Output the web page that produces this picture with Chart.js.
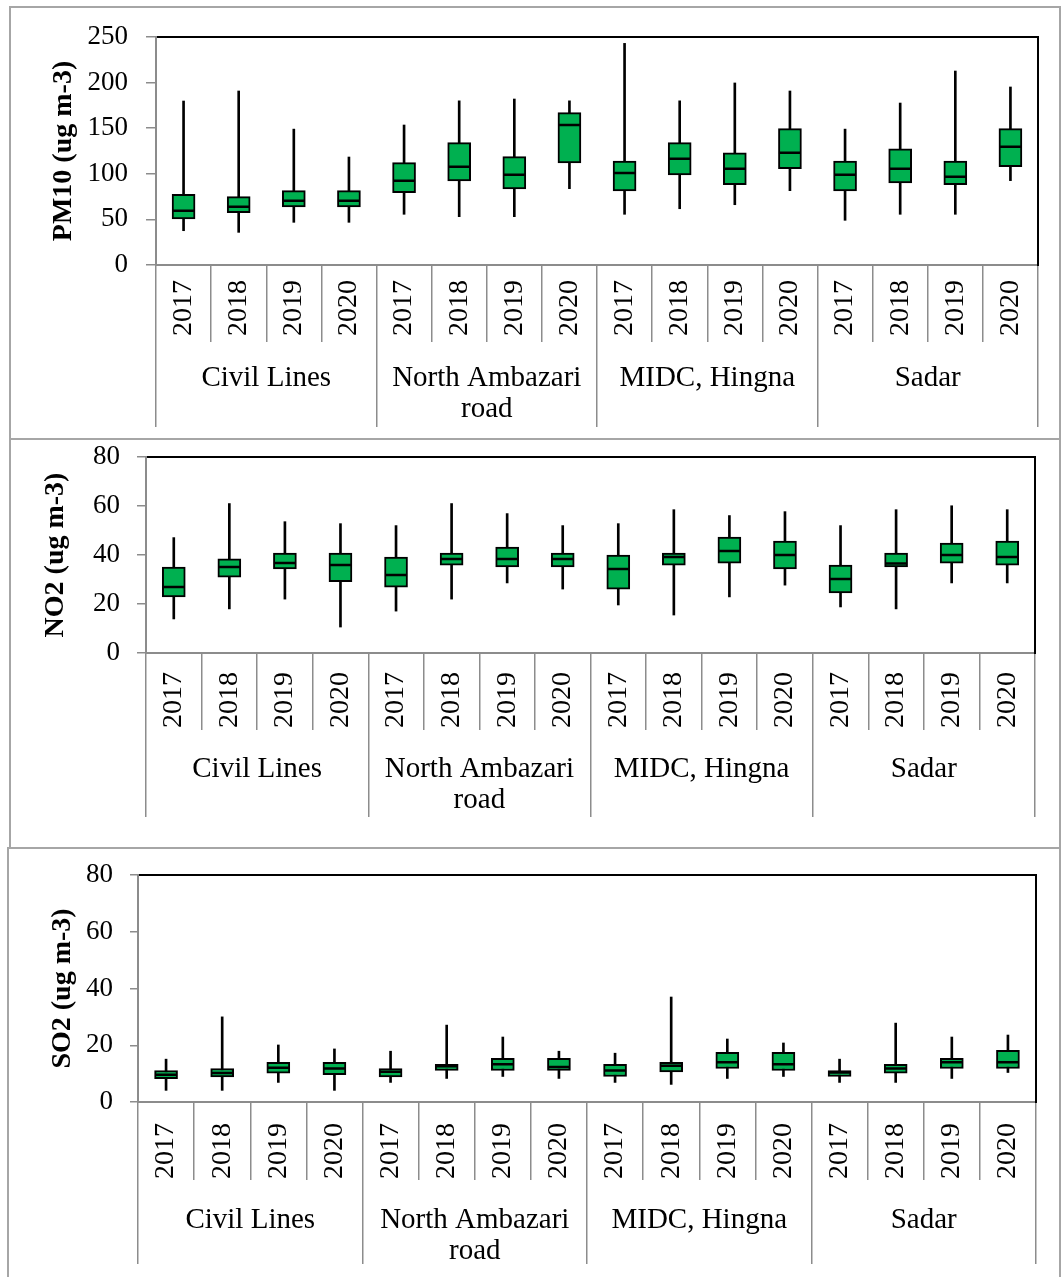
<!DOCTYPE html>
<html>
<head>
<meta charset="utf-8">
<script src="https://cdn.jsdelivr.net/npm/chart.js@4.4.1/dist/chart.umd.min.js"></script>
<style>
  html, body { margin: 0; padding: 0; background: #fff; }
  body { width: 1061px; height: 1277px; position: relative; overflow: hidden; }
  .panel { position: absolute; border: 2px solid #a6a6a6; box-sizing: border-box; }
  canvas { position: absolute; left: 0; }
</style>
</head>
<body>
<div class="panel" style="left:9px;top:6px;width:1052px;height:434px;"></div>
<div class="panel" style="left:9px;top:438px;width:1052px;height:411px;"></div>
<div class="panel" style="left:7px;top:847px;width:1054px;height:440px;"></div>
<canvas id="c1" width="1061" height="440" style="top:0px"></canvas>
<canvas id="c2" width="1061" height="430" style="top:420px"></canvas>
<canvas id="c3" width="1061" height="439" style="top:838px"></canvas>
<script>
// ---- Categories ----
const stations = ['Civil Lines', ['North Ambazari', 'road'], 'MIDC, Hingna', 'Sadar'];
const yearLabels = ['2017', '2018', '2019', '2020'];
const categories = ['2017','2018','2019','2020','2017','2018','2019','2020','2017','2018','2019','2020','2017','2018','2019','2020'];

// ---- PM10 (ug m-3) ----
const pm10Min = [37.6, 35.8, 46.8, 46.8, 55.6, 53.0, 53.0, 83.7, 55.6, 61.7, 66.1, 81.5, 49.0, 55.6, 55.6, 92.5];
const pm10Q1  = [50.4, 57.4, 63.6, 63.6, 79.3, 92.1, 83.3, 111.8, 81.1, 98.7, 88.0, 105.6, 81.1, 89.9, 88.0, 107.8];
const pm10Med = [59.6, 64.0, 70.5, 70.5, 92.5, 107.8, 99.0, 153.5, 100.9, 116.6, 105.6, 123.1, 99.0, 105.6, 96.8, 129.7];
const pm10Q3  = [77.5, 74.9, 81.5, 81.5, 112.2, 134.1, 118.8, 167.0, 114.0, 134.1, 123.1, 149.5, 114.0, 127.5, 114.0, 149.5];
const pm10Max = [179.8, 190.8, 149.0, 118.4, 153.5, 180.0, 182.0, 180.0, 243.0, 180.0, 199.6, 190.8, 149.0, 177.6, 212.7, 195.2];

// ---- NO2 (ug m-3) ----
const no2Min = [13.9, 18.0, 22.0, 10.6, 17.1, 22.0, 28.6, 26.1, 19.6, 15.5, 22.9, 27.7, 18.8, 18.0, 28.6, 28.6];
const no2Q1  = [22.9, 31.0, 34.3, 29.1, 26.9, 35.9, 35.1, 35.1, 26.1, 35.9, 36.7, 34.3, 24.5, 35.1, 36.7, 35.9];
const no2Med = [26.9, 35.1, 36.7, 35.9, 31.8, 38.4, 38.4, 38.4, 34.3, 39.2, 41.6, 40.0, 30.2, 36.5, 40.0, 39.2];
const no2Q3  = [35.1, 38.4, 40.8, 40.8, 39.2, 40.8, 43.2, 40.8, 40.0, 40.8, 47.3, 45.7, 35.9, 40.8, 44.9, 45.7];
const no2Max = [47.1, 61.0, 53.6, 52.8, 52.0, 61.0, 56.9, 52.0, 52.8, 58.5, 56.1, 57.7, 52.0, 58.5, 60.1, 58.5];

// ---- SO2 (ug m-3) ----
const so2Min = [4.1, 4.1, 6.9, 4.1, 6.9, 8.3, 9.0, 8.3, 6.9, 6.2, 8.3, 9.0, 6.9, 6.9, 8.3, 10.4];
const so2Q1  = [8.2, 8.8, 10.2, 9.6, 8.8, 11.1, 11.1, 11.1, 9.0, 10.6, 11.8, 11.1, 9.0, 10.2, 11.8, 11.8];
const so2Med = [9.6, 10.2, 12.1, 11.8, 10.7, 12.6, 13.3, 12.3, 11.1, 12.8, 14.0, 13.3, 10.4, 11.8, 14.0, 14.0];
const so2Q3  = [11.1, 11.8, 14.0, 14.0, 11.8, 13.3, 15.4, 15.4, 13.3, 14.0, 17.5, 17.5, 11.1, 13.3, 15.4, 18.2];
const so2Max = [15.1, 30.0, 20.1, 18.7, 17.9, 27.1, 22.9, 17.9, 17.2, 37.0, 22.2, 20.8, 15.1, 27.8, 22.9, 23.6];

// ---- Axis settings ----
const pm10Ticks = { max: 250, step: 50 };
const no2Ticks = { max: 80, step: 20 };
const so2Ticks = { max: 80, step: 20 };

const GRAY = '#8c8c8c';
const FONT = 'Liberation Serif, Times New Roman, serif';
const W = 1061;

function makeChart(id, d, p) {
  const H = p.H;
  const gb = p.B + p.yl + p.gl;
  new Chart(document.getElementById(id), {
    type: 'bar',
    data: {
      labels: categories,
      datasets: [
        { type: 'bar', data: d.min.map((v, i) => [v, d.max[i]]), backgroundColor: '#000', borderWidth: 0,
          barThickness: 2, grouped: false, order: 3 },
        { type: 'bar', data: d.q1.map((v, i) => [v, d.q3[i]]), backgroundColor: '#00B050', borderColor: '#000',
          borderWidth: 2, borderSkipped: false, barThickness: 23, grouped: false, order: 2 },
        { type: 'line', data: d.med, showLine: false, pointStyle: 'line', pointRadius: 11, pointHoverRadius: 11,
          borderColor: '#000', pointBorderColor: '#000', pointBackgroundColor: '#000', pointBorderWidth: 2.5,
          order: 1 }
      ]
    },
    options: {
      responsive: false, animation: false, events: [],
      layout: { padding: { left: 0, top: p.T, right: W - p.R, bottom: H - gb } },
      plugins: { legend: { display: false }, tooltip: { enabled: false } },
      scales: {
        x: {
          type: 'category', position: 'bottom', offset: true, weight: 0,
          grid: { offset: true, drawOnChartArea: false, drawTicks: true, tickLength: p.yl, color: GRAY, lineWidth: 1.5 },
          border: { display: true, color: GRAY, width: 2 },
          ticks: { autoSkip: false, minRotation: 90, maxRotation: 90, padding: p.yp, color: '#000',
                   font: { family: FONT, size: 28 } },
          afterFit: s => { s.height = p.yl; }
        },
        x2: {
          type: 'category', labels: stations, position: 'bottom', offset: true, weight: 1,
          grid: { offset: true, drawOnChartArea: false, drawTicks: true, tickLength: p.gl, color: GRAY, lineWidth: 1.5 },
          border: { display: false },
          ticks: { autoSkip: false, minRotation: 0, maxRotation: 0, padding: p.gp, color: '#000',
                   font: { family: FONT, size: 29, lineHeight: 1.1 } },
          afterFit: s => { s.height = p.gl; }
        },
        xTop: {
          type: 'category', position: 'top', display: true,
          grid: { display: false, drawTicks: false }, ticks: { display: false },
          border: { display: true, color: '#000', width: 2 },
          afterFit: s => { s.height = 0; }
        },
        y: {
          type: 'linear', position: 'left', min: 0, max: p.ymax,
          ticks: { stepSize: p.step, padding: p.tp, color: '#000', font: { family: FONT, size: 27 } },
          grid: { drawOnChartArea: false, drawTicks: true, tickLength: p.tl, color: GRAY, lineWidth: 1.5 },
          border: { display: true, color: GRAY, width: 2 },
          title: { display: true, text: p.title, color: '#000',
                   font: { family: FONT, size: 28, weight: 'bold', lineHeight: 1 },
                   padding: { top: p.titlePad, bottom: 0 } },
          afterFit: s => { s.width = p.L; }
        },
        yRight: {
          type: 'linear', position: 'right', display: true,
          grid: { display: false, drawTicks: false }, ticks: { display: false },
          border: { display: true, color: '#000', width: 2 },
          afterFit: s => { s.width = 0; }
        }
      }
    }
  });
}

makeChart('c1',
  { min: pm10Min, q1: pm10Q1, med: pm10Med, q3: pm10Q3, max: pm10Max },
  { H: 440, L: 156, T: 37, R: 1038, B: 265, yl: 77, gl: 85, yp: -62, gp: -65, tl: 10, tp: 18,
    titlePad: 50, ymax: pm10Ticks.max, step: pm10Ticks.step, title: 'PM10 (ug m-3)' });

makeChart('c2',
  { min: no2Min, q1: no2Q1, med: no2Med, q3: no2Q3, max: no2Max },
  { H: 430, L: 146, T: 37, R: 1035, B: 233, yl: 77, gl: 87, yp: -58, gp: -64, tl: 9, tp: 17,
    titlePad: 42, ymax: no2Ticks.max, step: no2Ticks.step, title: 'NO2 (ug m-3)' });

makeChart('c3',
  { min: so2Min, q1: so2Q1, med: so2Med, q3: so2Q3, max: so2Max },
  { H: 439, L: 138, T: 37, R: 1036, B: 264, yl: 78, gl: 84, yp: -57, gp: -60, tl: 8, tp: 17,
    titlePad: 49, ymax: so2Ticks.max, step: so2Ticks.step, title: 'SO2 (ug m-3)' });
</script>
</body>
</html>
